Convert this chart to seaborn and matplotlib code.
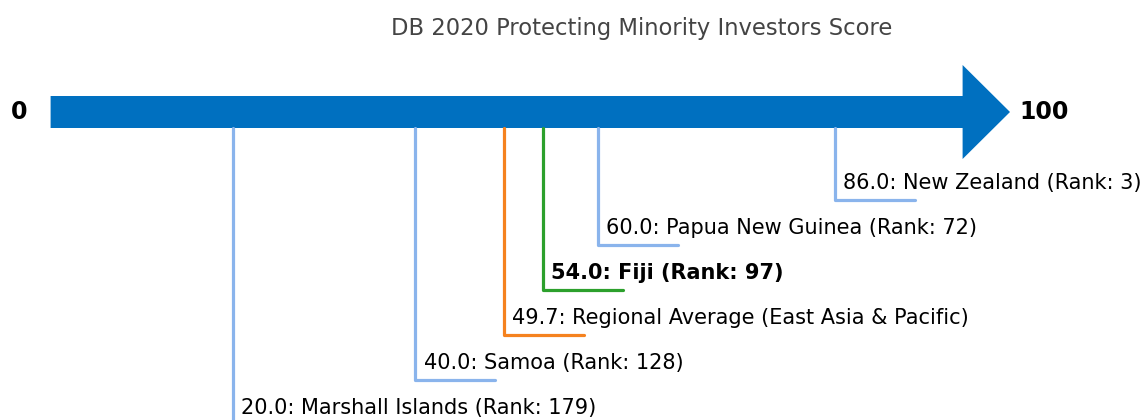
import numpy as np
import pandas as pd
import seaborn as sns
import matplotlib.pyplot as plt

# scores
names = ["New Zealand", "Papua New Guinea", "Fiji", "Regional Average (East Asia & Pacific)",
         "Samoa", "Marshall Islands"]
scores = [86.0, 60.0, 54.0, 49.7, 40.0, 20.0]
ranks = [3, 72, 97, None, 128, 179]
colors = ["#8ab4ec", "#8ab4ec", "#2ca02c", "#f5821f", "#8ab4ec", "#8ab4ec"]

sns.set_theme(style="white")
plt.rcParams['font.family'] = ['DejaVu Sans']

fig = plt.figure(figsize=(11.44, 4.2), dpi=100)
ax = fig.add_axes([0, 0, 1, 1])
# x in score units, y in pixel rows (top = 0)
px = 9.12
ax.set_xlim(-50.6 / px, (1144 - 50.6) / px)
ax.set_ylim(420, 0)
ax.axis("off")

# arrow
head = (1010 - 962.6) / px
ax.fill([0, 100, 100, 100 + head, 100, 100, 0],
        [96, 96, 65, 112, 159, 128, 128], color="#0070c0", lw=0)
ax.text(-3.5, 112, "0", ha="center", va="center", fontsize=17, fontweight="bold", color="black")
ax.text(100 + head + 1, 112, "100", ha="left", va="center", fontsize=17, fontweight="bold",
        color="black")

seg = 80 / px
for i, (n, s, r, c) in enumerate(zip(names, scores, ranks, colors)):
    level = 200 + 45 * i
    d = pd.DataFrame({"x": [s, s, s + seg], "y": [128, level, level]})
    sns.lineplot(data=d, x="x", y="y", sort=False, color=c, lw=2.3, ax=ax, estimator=None)
    label = f"{s:.1f}: {n}" + (f" (Rank: {r})" if r is not None else "")
    ax.text(s + 0.9, level - 11, label, ha="left", va="baseline", fontsize=15,
            fontweight="bold" if n == "Fiji" else "normal", color="black")

ax.text(642 / px - 50.6 / px, 28, "DB 2020 Protecting Minority Investors Score",
        ha="center", va="center", fontsize=16.3, color="#444444")
ax.set_xlabel("")
ax.set_ylabel("")

fig.savefig("out.png", dpi=100)
